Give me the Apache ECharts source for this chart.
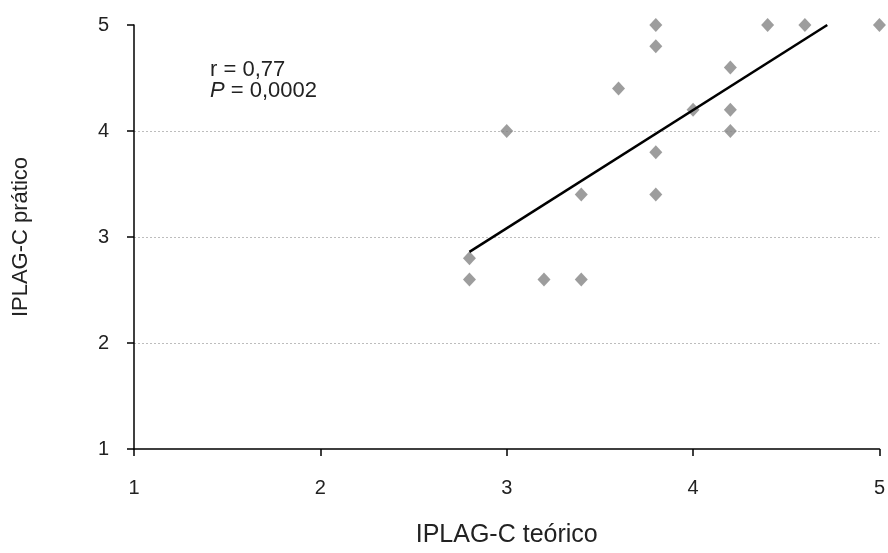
<!DOCTYPE html>
<html>
<head>
<meta charset="utf-8">
<script src="https://cdn.jsdelivr.net/npm/echarts@6/dist/echarts.min.js"></script>
<style>
html,body{margin:0;padding:0;background:#fff;}
#chart{width:888px;height:553px;}
</style>
</head>
<body>
<div id="chart"></div>
<script>
// Data
const teorico = [2.8, 2.8, 3.0, 3.2, 3.4, 3.4, 3.6, 3.8, 3.8, 3.8, 3.8, 4.0, 4.2, 4.2, 4.2, 4.4, 4.6, 5.0];
const pratico = [2.8, 2.6, 4.0, 2.6, 2.6, 3.4, 4.4, 5.0, 4.8, 3.8, 3.4, 4.2, 4.6, 4.2, 4.0, 5.0, 5.0, 5.0];
const trendX = [2.8, 4.72];
const trendY = [2.86, 5.0];
const xTicks = [1, 2, 3, 4, 5];
const yTicks = [1, 2, 3, 4, 5];
const xTitle = 'IPLAG-C teórico';
const yTitle = 'IPLAG-C prático';
const annotR = 'r = 0,77';
const annotP = '0,0002';

const FONT = 'Liberation Sans, Arial, sans-serif';
const points = teorico.map((x, i) => [x, pratico[i]]);
const trend = trendX.map((x, i) => [x, trendY[i]]);

const chart = echarts.init(document.getElementById('chart'), null, {renderer: 'canvas'});
chart.setOption({
  animation: false,
  backgroundColor: '#ffffff',
  grid: {left: 134, right: 3, top: 25, bottom: 97, containLabel: false},
  xAxis: {
    type: 'value',
    min: xTicks[0], max: xTicks[xTicks.length - 1], interval: 1,
    name: xTitle, nameLocation: 'middle', nameGap: 74,
    nameTextStyle: {fontFamily: FONT, fontSize: 25, color: '#222'},
    axisLine: {show: true, onZero: false, lineStyle: {color: '#000', width: 1.5}},
    axisTick: {show: true, inside: false, length: 7, lineStyle: {color: '#000', width: 1.5}},
    axisLabel: {fontFamily: FONT, fontSize: 20, color: '#222', margin: 29},
    splitLine: {show: false}
  },
  yAxis: {
    type: 'value',
    min: yTicks[0], max: yTicks[yTicks.length - 1], interval: 1,
    name: yTitle, nameLocation: 'middle', nameGap: 102, nameRotate: 90,
    nameTextStyle: {fontFamily: FONT, fontSize: 22, color: '#222'},
    axisLine: {show: true, onZero: false, lineStyle: {color: '#000', width: 1.5}},
    axisTick: {show: true, inside: false, length: 7, lineStyle: {color: '#000', width: 1.5}},
    axisLabel: {fontFamily: FONT, fontSize: 20, color: '#222', margin: 25},
    splitLine: {show: true, showMinLine: false, showMaxLine: false,
      lineStyle: {color: '#bdbdbd', width: 1, type: [2, 2]}}
  },
  graphic: [{
    type: 'text', left: 210, top: 59,
    style: {
      text: annotR + '\n{i|P} = ' + annotP,
      fontFamily: FONT, fontSize: 22, lineHeight: 21, fill: '#222',
      rich: {i: {fontStyle: 'italic', fontFamily: FONT, fontSize: 22, lineHeight: 21, fill: '#222'}}
    }
  }],
  series: [{
    type: 'scatter',
    data: points,
    symbol: 'diamond',
    symbolSize: [13, 14],
    clip: false,
    itemStyle: {color: '#858585'},
    z: 2
  }, {
    type: 'line',
    data: trend,
    showSymbol: false,
    symbol: 'none',
    lineStyle: {color: '#000', width: 2.5},
    z: 3
  }]
});
</script>
</body>
</html>
